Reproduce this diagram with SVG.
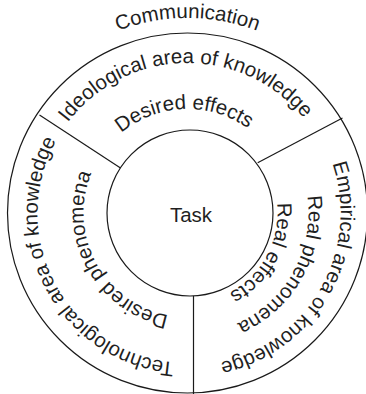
<svg xmlns="http://www.w3.org/2000/svg" xmlns:xlink="http://www.w3.org/1999/xlink" width="366" height="394" viewBox="0 0 366 394">
  <style>
    .ring { fill: none; stroke: #1a1a1a; stroke-width: 1.2; }
    .div { stroke: #1a1a1a; stroke-width: 1.2; fill: none; }
    .lbl { font-family: "Liberation Sans", Arial, Helvetica, sans-serif; font-size: 20.5px; fill: #1f1f1f; }
  </style>
  <defs>
    <path id="pComm" d="M153.64,405.04 A195,195 0 1 1 221.36,405.04"/>
    <path id="pIdeo" d="M164.04,361.15 A150,150 0 1 1 216.12,360.24"/>
    <path id="pDesEff" d="M173.03,315.99 A104,104 0 1 1 209.12,314.73"/>
    <path id="pTech" d="M330.16,166.65 A150,150 0 1 1 305.7,120.65"/>
    <path id="pDesPh" d="M286.13,180.0 A104,104 0 1 1 268.89,148.26"/>
    <path id="pEmp" d="M69.44,115.68 A153,153 0 1 1 43.28,161.93"/>
    <path id="pRealPh" d="M93.46,136.85 A121,121 0 1 1 73.09,173.61"/>
    <path id="pRealEff" d="M116.58,157.59 A90,90 0 1 1 101.9,185.19"/>
  </defs>
  <rect width="366" height="394" fill="#ffffff"/>

  <g id="communication">
    <circle class="ring" cx="187.5" cy="213" r="180"/>
    <text class="lbl"><textPath xlink:href="#pComm" href="#pComm" startOffset="50%" text-anchor="middle">Communication</textPath></text>
  </g>

  <g id="ideological">
    <text class="lbl"><textPath xlink:href="#pIdeo" href="#pIdeo" startOffset="50%" text-anchor="middle">Ideological area of knowledge</textPath></text>
    <text class="lbl"><textPath xlink:href="#pDesEff" href="#pDesEff" startOffset="50%" text-anchor="middle">Desired effects</textPath></text>
  </g>

  <g id="technological">
    <text class="lbl"><textPath xlink:href="#pTech" href="#pTech" startOffset="50%" text-anchor="middle">Technological area of knowledge</textPath></text>
    <text class="lbl"><textPath xlink:href="#pDesPh" href="#pDesPh" startOffset="50%" text-anchor="middle">Desired phenomena</textPath></text>
  </g>

  <g id="empirical">
    <text class="lbl"><textPath xlink:href="#pEmp" href="#pEmp" startOffset="50%" text-anchor="middle">Empirical area of knowledge</textPath></text>
    <text class="lbl"><textPath xlink:href="#pRealPh" href="#pRealPh" startOffset="50%" text-anchor="middle">Real phenomena</textPath></text>
    <text class="lbl"><textPath xlink:href="#pRealEff" href="#pRealEff" startOffset="50%" text-anchor="middle">Real effects</textPath></text>
  </g>

  <g id="task">
    <circle class="ring" cx="190" cy="213" r="83"/>
    <text class="lbl" x="191" y="222" text-anchor="middle">Task</text>
  </g>

  <g id="connectors">
    <line class="div" x1="39.5" y1="115" x2="120.5" y2="168"/>
    <line class="div" x1="342.5" y1="118" x2="257.7" y2="162.7"/>
    <line class="div" x1="193.5" y1="295.9" x2="193.5" y2="394"/>
  </g>
</svg>
